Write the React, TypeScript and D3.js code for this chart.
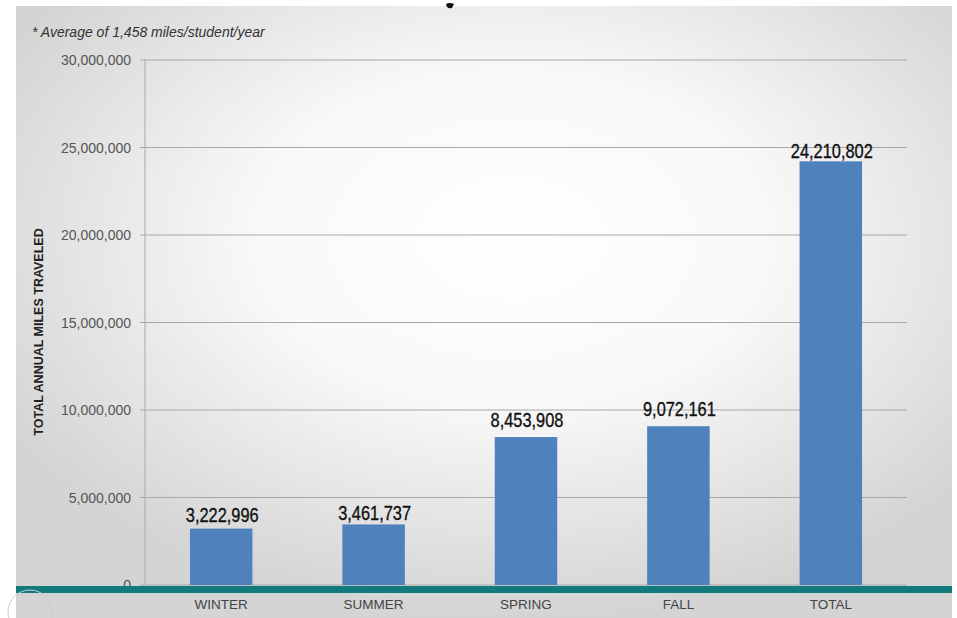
import React from "react";
import * as d3 from "d3";

const categories = ["WINTER", "SUMMER", "SPRING", "FALL", "TOTAL"];
const values = [3222996, 3461737, 8453908, 9072161, 24210802];
const yTicks = [0, 5000000, 10000000, 15000000, 20000000, 25000000, 30000000];

const W = 957;
const H = 618;

export default function App() {
  const margin = { left: 145, right: 907, top: 60, bottom: 585 };
  const x = d3.scaleBand<string>().domain(categories).range([margin.left, margin.right]).paddingInner(0.59).paddingOuter(0.295);
  const y = d3.scaleLinear().domain([0, 30000000]).range([margin.bottom, margin.top]);
  const fmt = d3.format(",");
  const font = "Arial, 'Liberation Sans', sans-serif";
  // gap between bar top and label baseline, as placed in the original slide
  const labelGap = [7, 4, 10, 10, 3];
  return (
    <svg width={W} height={H} style={{ position: "absolute", left: 0, top: 0 }}>
      <defs>
        <radialGradient id="bg" cx="0.53" cy="0.38" r="0.62">
          <stop offset="0" stopColor="#ffffff" />
          <stop offset="0.45" stopColor="#f8f8f8" />
          <stop offset="1" stopColor="#d4d4d4" />
        </radialGradient>
      </defs>
      <rect x={0} y={0} width={W} height={H} fill="#ffffff" />
      <rect x={16} y={6} width={936} height={612} fill="url(#bg)" />
      {/* fragment of the cut-off title */}
      <path d="M446,4 Q450,2 454,4 L452,8 Q449,9 447,7 Z" fill="#111" />
      <text x={32} y={37} fontFamily={font} fontStyle="italic" fontSize={14} fill="#333">* Average of 1,458 miles/student/year</text>
      {yTicks.map((t) => (
        <g key={t}>
          <line x1={140} x2={margin.right} y1={y(t)} y2={y(t)} stroke="#a8a8a8" strokeWidth={1} />
          <text x={131} y={y(t) + 5} textAnchor="end" fontFamily={font} fontSize={14} fill="#555">{fmt(t)}</text>
        </g>
      ))}
      <line x1={margin.left} x2={margin.left} y1={margin.top} y2={margin.bottom} stroke="#a8a8a8" strokeWidth={1} />
      <text transform={`translate(43,332) rotate(-90)`} textAnchor="middle" fontFamily={font} fontWeight="bold" fontSize={12.5} fill="#222">TOTAL ANNUAL MILES TRAVELED</text>
      {categories.map((c, i) => {
        const cx = (x(c) as number) + x.bandwidth() / 2;
        return (
          <g key={c}>
            <rect x={x(c)} y={y(values[i])} width={x.bandwidth()} height={y(0) - y(values[i])} fill="#4f81bd" />
            <g transform={`translate(${cx + 1},${y(values[i]) - labelGap[i]}) scale(0.82,1)`}>
              <text x={0} y={0} textAnchor="middle" fontFamily={font} fontSize={20} fill="#111" stroke="#111" strokeWidth={0.35}>{fmt(values[i])}</text>
            </g>
            <text x={cx} y={609} textAnchor="middle" fontFamily={font} fontSize={13.5} fill="#444">{c}</text>
          </g>
        );
      })}
      <rect x={16} y={586} width={936} height={7} fill="#107a7c" />
      <circle cx={30} cy={612} r={22} fill="none" stroke="#ccc" strokeWidth={1} />
    </svg>
  );
}
